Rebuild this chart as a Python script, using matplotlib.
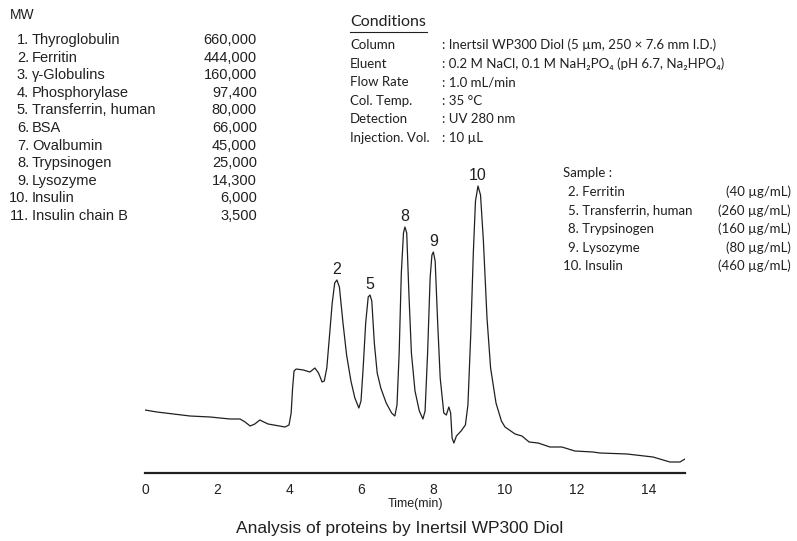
import numpy as np
import matplotlib
matplotlib.use("Agg")
import matplotlib.pyplot as plt
from matplotlib.lines import Line2D

# chromatogram trace (time in min, detector response in arbitrary units)
time_min = [0, 0.33, 0.56, 1.25, 1.81, 2.36, 2.64, 2.78, 2.92, 3.05, 3.19, 3.3, 3.42, 3.89,
            4.0, 4.06, 4.1, 4.14, 4.2, 4.4, 4.58, 4.72, 4.82, 4.92, 4.98, 5.05, 5.12, 5.2,
            5.27, 5.33, 5.4, 5.5, 5.6, 5.72, 5.83, 5.94, 6.0, 6.06, 6.13, 6.2, 6.25, 6.3,
            6.37, 6.45, 6.55, 6.7, 6.85, 6.94, 7.0, 7.06, 7.12, 7.18, 7.22, 7.27, 7.33, 7.4,
            7.5, 7.62, 7.72, 7.78, 7.85, 7.92, 7.97, 8.01, 8.06, 8.13, 8.2, 8.3, 8.37, 8.44,
            8.49, 8.53, 8.58, 8.65, 8.78, 8.9, 8.97, 9.05, 9.12, 9.18, 9.25, 9.32, 9.4, 9.5,
            9.6, 9.75, 9.9, 10.0, 10.28, 10.47, 10.67, 10.92, 11.25, 11.58, 11.94, 12.44,
            12.64, 13.39, 14.11, 14.58, 14.86, 15.0]
signal = [63, 61, 60, 57, 56, 54, 54, 51, 47, 49, 53, 51, 49, 46,
          48, 60, 85, 102, 104, 103, 101, 105, 100, 91, 92, 105, 135, 170,
          190, 193, 186, 150, 118, 92, 75, 65, 72, 105, 150, 176, 178, 172,
          130, 100, 85, 70, 60, 57, 68, 120, 200, 240, 246, 240, 180, 120,
          82, 62, 54, 62, 120, 195, 218, 221, 212, 150, 95, 60, 58, 66,
          60, 35, 30, 37, 42, 48, 68, 140, 220, 272, 287, 278, 232, 155,
          105, 70, 52, 46, 39, 37, 31, 30, 26, 26, 22, 21,
          20, 19, 16, 11, 11, 14]

peak_names = ["2", "5", "8", "9", "10"]
peak_times = [5.33, 6.25, 7.22, 8.01, 9.25]

mw_num = ["1.", "2.", "3.", "4.", "5.", "6.", "7.", "8.", "9.", "10.", "11."]
mw_name = ["Thyroglobulin", "Ferritin", "γ-Globulins", "Phosphorylase", "Transferrin, human",
           "BSA", "Ovalbumin", "Trypsinogen", "Lysozyme", "Insulin", "Insulin chain B"]
mw_value = ["660,000", "444,000", "160,000", "97,400", "80,000", "66,000",
            "45,000", "25,000", "14,300", "6,000", "3,500"]

cond_keys = ["Column", "Eluent", "Flow Rate", "Col. Temp.", "Detection", "Injection. Vol."]
cond_vals = [": Inertsil WP300 Diol (5 µm, 250 × 7.6 mm I.D.)",
             ": 0.2 M NaCl, 0.1 M NaH₂PO₄ (pH 6.7, Na₂HPO₄)",
             ": 1.0 mL/min", ": 35 °C", ": UV 280 nm", ": 10 µL"]

sample_names = ["2. Ferritin", "5. Transferrin, human", "8. Trypsinogen", "9. Lysozyme", "10. Insulin"]
sample_conc = ["(40 µg/mL)", "(260 µg/mL)", "(160 µg/mL)", "(80 µg/mL)", "(460 µg/mL)"]

W, H = 797, 541
arial = "Liberation Sans"
calib = ["Lato", "DejaVu Sans"]
col = "#231f20"


def fx(px):
    return px / W


def fy(py):
    return 1 - py / H


fig = plt.figure(figsize=(W / 100, H / 100), dpi=100)
ax = fig.add_axes([fx(145), fy(473), fx(685) - fx(145), fy(150) - fy(473)])
ax.plot(time_min, signal, color=col, lw=0.9)
ax.set_xlim(0, 15)
ax.set_ylim(0, 323)
for s in ["top", "left", "right"]:
    ax.spines[s].set_visible(False)
ax.spines["bottom"].set_linewidth(1.6)
ax.spines["bottom"].set_color(col)
ax.set_yticks([])
ax.set_xticks(range(0, 15, 2))
ax.tick_params(axis="x", length=0, pad=7, labelsize=10, labelcolor=col)
for lab in ax.get_xticklabels():
    lab.set_fontfamily(arial)
ax.set_xlabel("Time(min)", fontsize=9, family=arial, color=col, labelpad=1)

for name, t in zip(peak_names, peak_times):
    h = np.interp(t, time_min, signal)
    ax.annotate(name, (t, h), xytext=(0, 2.5), textcoords="offset points",
                ha="center", va="bottom", fontsize=11.5, family=arial, color=col)

# MW table
fig.text(fx(10), fy(15), "MW", fontsize=10, family=arial, color=col, va="center")
for i in range(len(mw_name)):
    y = fy(40 + i * 17.6)
    fig.text(fx(29), y, mw_num[i], fontsize=10.5, family=arial, color=col, va="center", ha="right")
    fig.text(fx(32), y, mw_name[i], fontsize=10.5, family=arial, color=col, va="center")
    fig.text(fx(257), y, mw_value[i], fontsize=10.5, family=arial, color=col, va="center", ha="right")

# conditions block
fig.text(fx(350), fy(22), "Conditions", fontsize=11.5, family=calib, color=col, va="center")
fig.add_artist(Line2D([fx(350), fx(427)], [fy(32), fy(32)], color=col, lw=0.8))
for i in range(len(cond_keys)):
    y = fy(45 + i * 18.6)
    fig.text(fx(350), y, cond_keys[i], fontsize=9.5, family=calib, color=col, va="center")
    fig.text(fx(442), y, cond_vals[i], fontsize=9.5, family=calib, color=col, va="center")

# sample block
fig.text(fx(563), fy(173), "Sample :", fontsize=9.5, family=calib, color=col, va="center")
for i in range(len(sample_names)):
    y = fy(192 + i * 18.5)
    x0 = 563 if sample_names[i].startswith("10") else 568
    fig.text(fx(x0), y, sample_names[i], fontsize=9.5, family=calib, color=col, va="center")
    fig.text(fx(791), y, sample_conc[i], fontsize=9.5, family=calib, color=col, va="center", ha="right")

fig.text(fx(400), fy(528), "Analysis of proteins by Inertsil WP300 Diol", fontsize=12.5,
         family=arial, color=col, ha="center", va="center")

fig.savefig("out.png", dpi=100)
